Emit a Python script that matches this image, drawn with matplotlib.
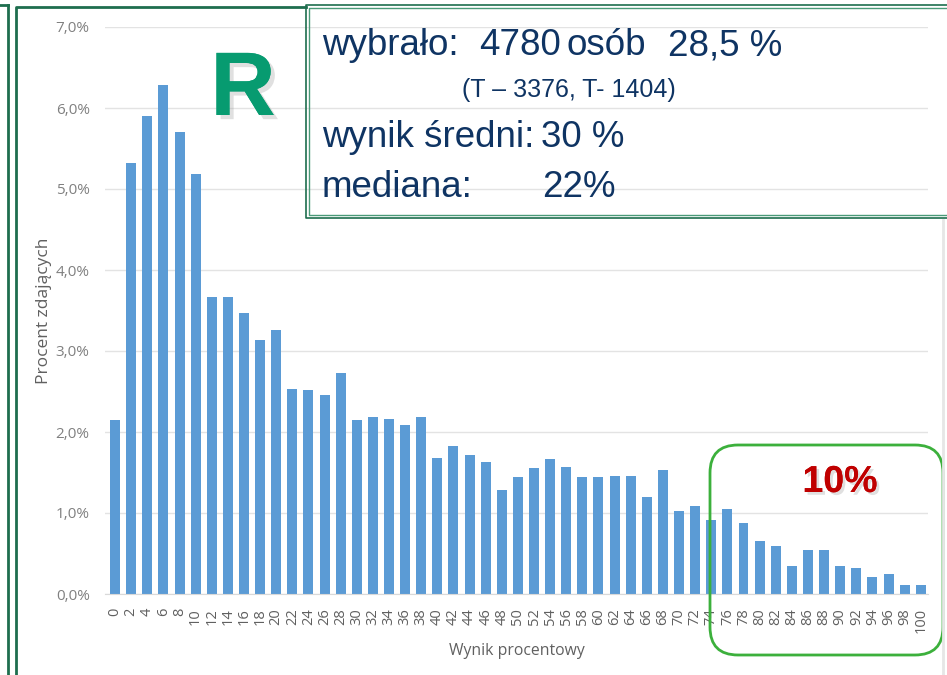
import numpy as np
import matplotlib.pyplot as plt
from matplotlib.patches import FancyBboxPatch
import matplotlib.patheffects as pe

# dane z wykresu (procent zdających dla każdego wyniku)
scores = list(range(0, 101, 2))
values = [2.15, 5.32, 5.90, 6.28, 5.70, 5.19, 3.67, 3.67, 3.47, 3.14,
          3.26, 2.53, 2.52, 2.46, 2.73, 2.15, 2.19, 2.16, 2.09, 2.19,
          1.68, 1.83, 1.72, 1.63, 1.28, 1.44, 1.56, 1.67, 1.57, 1.44,
          1.44, 1.46, 1.46, 1.20, 1.53, 1.02, 1.09, 0.91, 1.05, 0.88,
          0.65, 0.59, 0.35, 0.54, 0.54, 0.35, 0.32, 0.21, 0.25, 0.11,
          0.11]
yticks = [0, 1, 2, 3, 4, 5, 6, 7]
ytick_labels = ['0,0%', '1,0%', '2,0%', '3,0%', '4,0%', '5,0%', '6,0%', '7,0%']

W, H = 947, 675
fig = plt.figure(figsize=(W / 100, H / 100), dpi=100)
fig.patch.set_facecolor('white')

# wykres słupkowy
ax = fig.add_axes([105 / W, 1 - 594 / H, (928 - 105) / W, (594 - 27) / H])
ax.bar(scores, values, width=1.24, color='#5b9bd5', zorder=2)
ax.set_xlim(-1.25, 100.9)
ax.set_ylim(0, 7)
ax.set_yticks(yticks)
ax.set_yticklabels(ytick_labels, fontsize=11, color='#808080', family='Open Sans')
ax.set_xticks(scores)
ax.set_xticklabels([str(s) for s in scores], rotation=90, fontsize=10.5,
                   color='#606060', family='Open Sans')
ax.tick_params(axis='y', length=0, pad=11)
ax.tick_params(axis='x', length=0, pad=10)
ax.grid(axis='y', color='#e3e3e3', linewidth=1, zorder=0)
for s in ['top', 'right', 'left']:
    ax.spines[s].set_visible(False)
ax.spines['bottom'].set_color('#d9d9d9')
ax.set_ylabel('Procent zdających', fontsize=12.5, color='#606060', family='Open Sans', labelpad=3)
ax.set_xlabel('Wynik procentowy', fontsize=11.3, color='#606060', family='Open Sans', labelpad=7)

# warstwa z ramkami i napisami (współrzędne w pikselach)
ov = fig.add_axes([0, 0, 1, 1], zorder=5)
ov.set_xlim(0, W)
ov.set_ylim(H, 0)
ov.axis('off')

green = '#1e6e4e'
ov.plot([7.5, 7.5], [5, H], color=green, lw=2)
ov.plot([0, 7.5], [5, 5], color=green, lw=2)
ov.plot([15.5, 15.5, 306], [H, 7, 7], color=green, lw=2)
ov.plot([943, 943], [220, H], color='#e6e6e6', lw=2)

# ramka z opisem
ov.plot([W, 306, 306, W], [5, 5, 218, 218], color=green, lw=1.2)
ov.plot([W, 309, 309, W], [8, 8, 215, 215], color='#4a9a78', lw=1)

navy = '#0f3463'
fnt = 'Liberation Sans'
big = 26.5
ov.text(322, 55, 'wybrało:', fontsize=big, color=navy, family=fnt, va='baseline')
ov.text(479, 55, '4780', fontsize=big, color=navy, family=fnt, va='baseline')
ov.text(567, 55, 'osób', fontsize=big, color=navy, family=fnt, va='baseline')
ov.text(668, 55, '28,5 %', fontsize=big, color=navy, family=fnt, va='baseline')
ov.text(569, 97, '(T – 3376, T- 1404)', fontsize=18, color=navy, family=fnt,
        va='baseline', ha='center')
ov.text(322, 147, 'wynik średni:', fontsize=big, color=navy, family=fnt, va='baseline')
ov.text(541, 147, '30 %', fontsize=big, color=navy, family=fnt, va='baseline')
ov.text(322, 197, 'mediana:', fontsize=big, color=navy, family=fnt, va='baseline')
ov.text(542, 197, '22%', fontsize=big, color=navy, family=fnt, va='baseline')

# duże R
ov.text(243, 115, 'R', fontsize=65, color='#079b70', family=fnt, fontweight='bold',
        ha='center', va='baseline',
        path_effects=[pe.withSimplePatchShadow(offset=(3, -3), shadow_rgbFace='#999999', alpha=0.3),
                      pe.Normal()])

# zaznaczenie ostatnich 10%
box = FancyBboxPatch((710, 445), 233, 210, boxstyle='round,pad=0,rounding_size=28',
                     fill=False, edgecolor='#3cb03c', lw=2)
ov.add_patch(box)
ov.text(840, 492, '10%', fontsize=27, color='#c00000', family=fnt, fontweight='bold',
        ha='center', va='baseline',
        path_effects=[pe.withSimplePatchShadow(offset=(2, -2), shadow_rgbFace='#999999', alpha=0.3),
                      pe.Normal()])

fig.savefig('out.png', dpi=100)
